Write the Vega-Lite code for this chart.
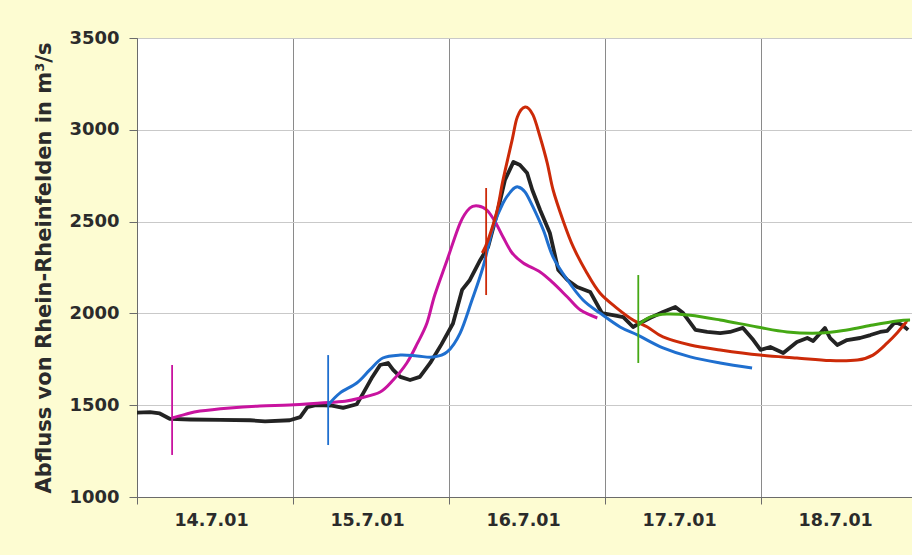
{
  "$schema": "https://vega.github.io/schema/vega-lite/v6.json",
  "width": 775,
  "height": 459,
  "autosize": "none",
  "padding": {"left": 137, "top": 38, "right": 0, "bottom": 58},
  "background": "#fdfcd2",
  "config": {
    "view": {"fill": "white", "stroke": "#6b6b6b", "strokeWidth": 1}
  },
  "datasets": {
    "flow": [
      {"s": "gemessen", "h": 0, "q": 1460}, {"s": "gemessen", "h": 2.0, "q": 1462}, {"s": "gemessen", "h": 3.5, "q": 1455},
      {"s": "gemessen", "h": 5.1, "q": 1425}, {"s": "gemessen", "h": 8.2, "q": 1422}, {"s": "gemessen", "h": 12.8, "q": 1420},
      {"s": "gemessen", "h": 17.4, "q": 1418}, {"s": "gemessen", "h": 19.7, "q": 1412}, {"s": "gemessen", "h": 23.5, "q": 1418},
      {"s": "gemessen", "h": 25.1, "q": 1435}, {"s": "gemessen", "h": 26.2, "q": 1490}, {"s": "gemessen", "h": 27.5, "q": 1500},
      {"s": "gemessen", "h": 30.0, "q": 1498}, {"s": "gemessen", "h": 31.7, "q": 1485}, {"s": "gemessen", "h": 33.8, "q": 1505},
      {"s": "gemessen", "h": 34.8, "q": 1566}, {"s": "gemessen", "h": 36.2, "q": 1654}, {"s": "gemessen", "h": 37.4, "q": 1719},
      {"s": "gemessen", "h": 38.6, "q": 1730}, {"s": "gemessen", "h": 39.4, "q": 1692}, {"s": "gemessen", "h": 40.5, "q": 1654},
      {"s": "gemessen", "h": 42.0, "q": 1637}, {"s": "gemessen", "h": 43.5, "q": 1654}, {"s": "gemessen", "h": 45.1, "q": 1730},
      {"s": "gemessen", "h": 46.8, "q": 1830}, {"s": "gemessen", "h": 48.6, "q": 1945}, {"s": "gemessen", "h": 50.0, "q": 2128},
      {"s": "gemessen", "h": 51.2, "q": 2182}, {"s": "gemessen", "h": 52.8, "q": 2291}, {"s": "gemessen", "h": 54.0, "q": 2362},
      {"s": "gemessen", "h": 55.4, "q": 2547}, {"s": "gemessen", "h": 56.6, "q": 2727}, {"s": "gemessen", "h": 57.9, "q": 2825},
      {"s": "gemessen", "h": 58.9, "q": 2808}, {"s": "gemessen", "h": 60.0, "q": 2765}, {"s": "gemessen", "h": 60.8, "q": 2672},
      {"s": "gemessen", "h": 62.0, "q": 2563}, {"s": "gemessen", "h": 63.5, "q": 2438}, {"s": "gemessen", "h": 64.8, "q": 2236},
      {"s": "gemessen", "h": 66.2, "q": 2182}, {"s": "gemessen", "h": 67.7, "q": 2144}, {"s": "gemessen", "h": 69.7, "q": 2117},
      {"s": "gemessen", "h": 71.5, "q": 2002}, {"s": "gemessen", "h": 73.2, "q": 1991}, {"s": "gemessen", "h": 74.8, "q": 1980},
      {"s": "gemessen", "h": 76.3, "q": 1926}, {"s": "gemessen", "h": 77.4, "q": 1948}, {"s": "gemessen", "h": 78.9, "q": 1975},
      {"s": "gemessen", "h": 80.9, "q": 2008}, {"s": "gemessen", "h": 82.8, "q": 2035}, {"s": "gemessen", "h": 84.0, "q": 2002},
      {"s": "gemessen", "h": 85.9, "q": 1910}, {"s": "gemessen", "h": 87.7, "q": 1899}, {"s": "gemessen", "h": 89.7, "q": 1893},
      {"s": "gemessen", "h": 91.2, "q": 1899}, {"s": "gemessen", "h": 93.2, "q": 1921}, {"s": "gemessen", "h": 94.8, "q": 1855},
      {"s": "gemessen", "h": 95.9, "q": 1801}, {"s": "gemessen", "h": 97.4, "q": 1817}, {"s": "gemessen", "h": 99.4, "q": 1784},
      {"s": "gemessen", "h": 101.5, "q": 1844}, {"s": "gemessen", "h": 103.1, "q": 1866}, {"s": "gemessen", "h": 104.0, "q": 1850},
      {"s": "gemessen", "h": 105.8, "q": 1921}, {"s": "gemessen", "h": 106.6, "q": 1866}, {"s": "gemessen", "h": 107.7, "q": 1828},
      {"s": "gemessen", "h": 109.2, "q": 1855}, {"s": "gemessen", "h": 111.2, "q": 1866}, {"s": "gemessen", "h": 112.8, "q": 1882},
      {"s": "gemessen", "h": 114.3, "q": 1899}, {"s": "gemessen", "h": 115.4, "q": 1905}, {"s": "gemessen", "h": 116.6, "q": 1953},
      {"s": "gemessen", "h": 117.7, "q": 1937}, {"s": "gemessen", "h": 118.6, "q": 1910},

      {"s": "Vorhersage 14.7.", "h": 5.4, "q": 1430}, {"s": "Vorhersage 14.7.", "h": 7.4, "q": 1450}, {"s": "Vorhersage 14.7.", "h": 9.7, "q": 1468},
      {"s": "Vorhersage 14.7.", "h": 14.3, "q": 1485}, {"s": "Vorhersage 14.7.", "h": 18.9, "q": 1496}, {"s": "Vorhersage 14.7.", "h": 23.5, "q": 1501},
      {"s": "Vorhersage 14.7.", "h": 28.2, "q": 1512}, {"s": "Vorhersage 14.7.", "h": 32.0, "q": 1522}, {"s": "Vorhersage 14.7.", "h": 34.3, "q": 1539},
      {"s": "Vorhersage 14.7.", "h": 37.4, "q": 1572}, {"s": "Vorhersage 14.7.", "h": 39.4, "q": 1637}, {"s": "Vorhersage 14.7.", "h": 41.5, "q": 1730},
      {"s": "Vorhersage 14.7.", "h": 43.1, "q": 1835}, {"s": "Vorhersage 14.7.", "h": 44.6, "q": 1948}, {"s": "Vorhersage 14.7.", "h": 45.8, "q": 2100},
      {"s": "Vorhersage 14.7.", "h": 47.7, "q": 2291}, {"s": "Vorhersage 14.7.", "h": 49.7, "q": 2492}, {"s": "Vorhersage 14.7.", "h": 51.2, "q": 2574},
      {"s": "Vorhersage 14.7.", "h": 52.5, "q": 2585}, {"s": "Vorhersage 14.7.", "h": 53.8, "q": 2563}, {"s": "Vorhersage 14.7.", "h": 55.1, "q": 2498},
      {"s": "Vorhersage 14.7.", "h": 56.3, "q": 2416}, {"s": "Vorhersage 14.7.", "h": 57.7, "q": 2329}, {"s": "Vorhersage 14.7.", "h": 59.4, "q": 2275},
      {"s": "Vorhersage 14.7.", "h": 62.0, "q": 2226}, {"s": "Vorhersage 14.7.", "h": 64.0, "q": 2166}, {"s": "Vorhersage 14.7.", "h": 66.2, "q": 2089},
      {"s": "Vorhersage 14.7.", "h": 68.2, "q": 2018}, {"s": "Vorhersage 14.7.", "h": 70.8, "q": 1975},

      {"s": "Vorhersage 15.7.", "h": 29.4, "q": 1501}, {"s": "Vorhersage 15.7.", "h": 31.2, "q": 1566}, {"s": "Vorhersage 15.7.", "h": 33.8, "q": 1621},
      {"s": "Vorhersage 15.7.", "h": 35.8, "q": 1692}, {"s": "Vorhersage 15.7.", "h": 37.8, "q": 1757}, {"s": "Vorhersage 15.7.", "h": 40.5, "q": 1773},
      {"s": "Vorhersage 15.7.", "h": 43.1, "q": 1768}, {"s": "Vorhersage 15.7.", "h": 45.5, "q": 1762}, {"s": "Vorhersage 15.7.", "h": 47.7, "q": 1790},
      {"s": "Vorhersage 15.7.", "h": 49.7, "q": 1893}, {"s": "Vorhersage 15.7.", "h": 51.5, "q": 2070}, {"s": "Vorhersage 15.7.", "h": 53.2, "q": 2250},
      {"s": "Vorhersage 15.7.", "h": 54.8, "q": 2471}, {"s": "Vorhersage 15.7.", "h": 56.3, "q": 2601}, {"s": "Vorhersage 15.7.", "h": 57.7, "q": 2672},
      {"s": "Vorhersage 15.7.", "h": 58.6, "q": 2689}, {"s": "Vorhersage 15.7.", "h": 59.7, "q": 2661}, {"s": "Vorhersage 15.7.", "h": 60.9, "q": 2580},
      {"s": "Vorhersage 15.7.", "h": 62.5, "q": 2454}, {"s": "Vorhersage 15.7.", "h": 64.0, "q": 2307}, {"s": "Vorhersage 15.7.", "h": 66.2, "q": 2182},
      {"s": "Vorhersage 15.7.", "h": 68.6, "q": 2073}, {"s": "Vorhersage 15.7.", "h": 71.2, "q": 2002}, {"s": "Vorhersage 15.7.", "h": 74.3, "q": 1926},
      {"s": "Vorhersage 15.7.", "h": 77.1, "q": 1880}, {"s": "Vorhersage 15.7.", "h": 80.9, "q": 1812}, {"s": "Vorhersage 15.7.", "h": 85.1, "q": 1763},
      {"s": "Vorhersage 15.7.", "h": 89.7, "q": 1730}, {"s": "Vorhersage 15.7.", "h": 94.6, "q": 1703},

      {"s": "Vorhersage 16.7.", "h": 53.1, "q": 2329}, {"s": "Vorhersage 16.7.", "h": 54.0, "q": 2400}, {"s": "Vorhersage 16.7.", "h": 55.4, "q": 2563},
      {"s": "Vorhersage 16.7.", "h": 56.3, "q": 2727}, {"s": "Vorhersage 16.7.", "h": 57.7, "q": 2945}, {"s": "Vorhersage 16.7.", "h": 58.5, "q": 3070},
      {"s": "Vorhersage 16.7.", "h": 59.7, "q": 3124}, {"s": "Vorhersage 16.7.", "h": 60.9, "q": 3081}, {"s": "Vorhersage 16.7.", "h": 62.0, "q": 2961},
      {"s": "Vorhersage 16.7.", "h": 63.1, "q": 2819}, {"s": "Vorhersage 16.7.", "h": 64.0, "q": 2672}, {"s": "Vorhersage 16.7.", "h": 65.5, "q": 2509},
      {"s": "Vorhersage 16.7.", "h": 67.1, "q": 2362}, {"s": "Vorhersage 16.7.", "h": 69.2, "q": 2220}, {"s": "Vorhersage 16.7.", "h": 71.2, "q": 2111},
      {"s": "Vorhersage 16.7.", "h": 73.8, "q": 2029}, {"s": "Vorhersage 16.7.", "h": 76.3, "q": 1964}, {"s": "Vorhersage 16.7.", "h": 78.5, "q": 1926},
      {"s": "Vorhersage 16.7.", "h": 80.9, "q": 1872}, {"s": "Vorhersage 16.7.", "h": 85.1, "q": 1828}, {"s": "Vorhersage 16.7.", "h": 89.7, "q": 1801},
      {"s": "Vorhersage 16.7.", "h": 95.8, "q": 1773}, {"s": "Vorhersage 16.7.", "h": 101.5, "q": 1757}, {"s": "Vorhersage 16.7.", "h": 106.6, "q": 1743},
      {"s": "Vorhersage 16.7.", "h": 110.8, "q": 1746}, {"s": "Vorhersage 16.7.", "h": 113.2, "q": 1773}, {"s": "Vorhersage 16.7.", "h": 115.4, "q": 1839},
      {"s": "Vorhersage 16.7.", "h": 116.9, "q": 1893}, {"s": "Vorhersage 16.7.", "h": 118.2, "q": 1948}, {"s": "Vorhersage 16.7.", "h": 118.6, "q": 1955},

      {"s": "Vorhersage 17.7.", "h": 77.1, "q": 1937}, {"s": "Vorhersage 17.7.", "h": 78.9, "q": 1980}, {"s": "Vorhersage 17.7.", "h": 81.5, "q": 1997},
      {"s": "Vorhersage 17.7.", "h": 85.1, "q": 1990}, {"s": "Vorhersage 17.7.", "h": 89.7, "q": 1964}, {"s": "Vorhersage 17.7.", "h": 95.4, "q": 1926},
      {"s": "Vorhersage 17.7.", "h": 100.0, "q": 1899}, {"s": "Vorhersage 17.7.", "h": 105.1, "q": 1893}, {"s": "Vorhersage 17.7.", "h": 109.2, "q": 1910},
      {"s": "Vorhersage 17.7.", "h": 113.2, "q": 1937}, {"s": "Vorhersage 17.7.", "h": 116.9, "q": 1959}, {"s": "Vorhersage 17.7.", "h": 118.9, "q": 1964}
    ],
    "starts": [
      {"s": "Vorhersage 14.7.", "h": 5.4, "lo": 1229, "hi": 1719},
      {"s": "Vorhersage 15.7.", "h": 29.4, "lo": 1283, "hi": 1773},
      {"s": "Vorhersage 16.7.", "h": 53.7, "lo": 2100, "hi": 2683},
      {"s": "Vorhersage 17.7.", "h": 77.1, "lo": 1730, "hi": 2209}
    ]
  },
  "encoding": {
    "x": {
      "field": "h",
      "type": "quantitative",
      "scale": {"domain": [0, 119.2], "nice": false, "zero": false},
      "axis": {
        "title": null,
        "values": [0, 24, 48, 72, 96],
        "grid": true,
        "gridColor": "#8a8a8a",
        "gridOpacity": 1,
        "domainColor": "#6b6b6b",
        "tickColor": "#6b6b6b",
        "tickSize": 7,
        "labelFont": "DejaVu Sans",
        "labelFontWeight": "bold",
        "labelFontSize": 17.5,
        "labelColor": "#2b2b2b",
        "labelAlign": "center",
        "labelOffset": 74,
        "labelPadding": 7,
        "labelExpr": "(14 + datum.value / 24) + '.7.01'"
      }
    },
    "color": {
      "field": "s",
      "type": "nominal",
      "legend": null,
      "scale": {
        "domain": ["gemessen", "Vorhersage 14.7.", "Vorhersage 15.7.", "Vorhersage 16.7.", "Vorhersage 17.7."],
        "range": ["#232323", "#c8139f", "#1f6fcf", "#cc2a08", "#45a814"]
      }
    }
  },
  "layer": [
    {
      "data": {"name": "flow"},
      "transform": [{"filter": "datum.s === 'gemessen'"}],
      "mark": {"type": "line", "strokeWidth": 3.8, "strokeJoin": "round", "clip": true},
      "encoding": {
        "y": {
          "field": "q",
          "type": "quantitative",
          "scale": {"domain": [1000, 3500], "nice": false, "zero": false},
          "axis": {
            "title": "Abfluss von Rhein-Rheinfelden in m³/s",
            "titleFont": "DejaVu Sans",
            "titleFontWeight": "bold",
            "titleFontSize": 21,
            "titleColor": "#2b2b2b",
            "titlePadding": 14,
            "values": [1000, 1500, 2000, 2500, 3000, 3500],
            "format": "d",
            "grid": true,
            "gridColor": "#c9c9c9",
            "domainColor": "#6b6b6b",
            "tickColor": "#6b6b6b",
            "tickSize": 8,
            "labelFont": "DejaVu Sans",
            "labelFontWeight": "bold",
            "labelFontSize": 18,
            "labelColor": "#2b2b2b",
            "labelPadding": 10
          }
        }
      }
    },
    {
      "data": {"name": "flow"},
      "transform": [{"filter": "datum.s !== 'gemessen'"}],
      "mark": {"type": "line", "strokeWidth": 3, "interpolate": "cardinal", "clip": true},
      "encoding": {
        "y": {"field": "q", "type": "quantitative"}
      }
    },
    {
      "data": {"name": "starts"},
      "mark": {"type": "rule", "strokeWidth": 1.8},
      "encoding": {
        "y": {"field": "lo", "type": "quantitative"},
        "y2": {"field": "hi"}
      }
    }
  ]
}
